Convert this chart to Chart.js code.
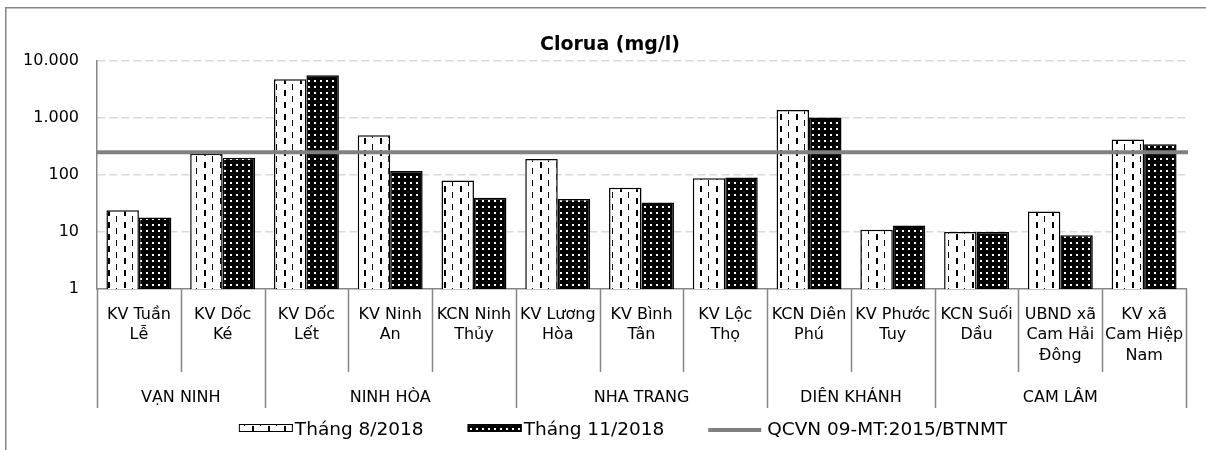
<!DOCTYPE html>
<html><head><meta charset="utf-8">
<script src="https://cdn.jsdelivr.net/npm/chart.js@4"></script>
<style>html,body{margin:0;padding:0;background:#fff;overflow:hidden;} canvas{display:block}</style>
</head><body>
<canvas id="c" width="1206" height="450"></canvas>
<script>
const categories = [['KV Tuần','Lễ'],['KV Dốc','Ké'],['KV Dốc','Lết'],['KV Ninh','An'],['KCN Ninh','Thủy'],['KV Lương','Hòa'],['KV Bình','Tân'],['KV Lộc','Thọ'],['KCN Diên','Phú'],['KV Phước','Tuy'],['KCN Suối','Dầu'],['UBND xã','Cam Hải','Đông'],['KV xã','Cam Hiệp','Nam']];
const groups = ['VẠN NINH','NINH HÒA','NHA TRANG','DIÊN KHÁNH','CAM LÂM'];
const groupSizes = [2,3,3,2,3];
const aug2018 = [24,235,4800,500,80,190,60,88,1380,11,10,23,420];
const nov2018 = [18,200,5600,118,40,38,33,90,1020,13,10,8.8,345];
const qcvnLimit = 250;
const yTicks = [1,10,100,1000,10000];
const yTickLabels = ['1','10','100','1.000','10.000'];
const seriesNames = ['Tháng 8/2018','Tháng 11/2018','QCVN 09-MT:2015/BTNMT'];
const chartTitle = 'Clorua (mg/l)';

const FONT = '"DejaVu Sans", sans-serif';
const LIMIT_COLOR = '#808080';
Chart.defaults.font.family = FONT;
const canvas = document.getElementById('c');
const mainCtx = canvas.getContext('2d');

function makePattern(w, h, draw){
  const c = document.createElement('canvas'); c.width = w; c.height = h;
  const g = c.getContext('2d'); draw(g);
  return mainCtx.createPattern(c, 'repeat');
}
const patDash = makePattern(16, 12, g => {
  g.fillStyle = '#fff'; g.fillRect(0,0,16,12);
  g.fillStyle = '#000'; g.fillRect(4,0,1,6); g.fillRect(12,6,2,6);
});
const patDot = makePattern(6, 6, g => {
  g.fillStyle = '#000'; g.fillRect(0,0,6,6);
  g.fillStyle = '#fff'; g.fillRect(2,2,2,2);
});

// QCVN limit line, positioned through the y scale across the plot area
const limitLine = {
  id: 'limitLine',
  afterDatasetsDraw(chart){
    const {ctx, chartArea: a, scales: {y}} = chart;
    const py = y.getPixelForValue(qcvnLimit);
    ctx.save();
    ctx.strokeStyle = LIMIT_COLOR; ctx.lineWidth = 4;
    ctx.beginPath(); ctx.moveTo(a.left, py); ctx.lineTo(a.right + 2, py); ctx.stroke();
    ctx.restore();
  }
};

const decor = {
  id: 'decor',
  afterDraw(chart){
    const {ctx, chartArea: a, scales: {x}} = chart;
    ctx.save();
    ctx.fillStyle = '#868686';
    ctx.fillRect(5, 7, 1201, 1.5);
    ctx.fillRect(5, 7, 1.5, 443);
    ctx.fillStyle = '#000'; ctx.textAlign = 'center'; ctx.textBaseline = 'alphabetic';
    ctx.font = 'bold 19px ' + FONT;
    ctx.fillText(chartTitle, 610, 50);
    const n = categories.length;
    const bx = i => i === 0 ? x.left : (i === n ? x.right : (x.getPixelForValue(i-1) + x.getPixelForValue(i)) / 2);
    const gb = [0]; groupSizes.forEach(s => gb.push(gb[gb.length-1] + s));
    ctx.strokeStyle = '#868686'; ctx.lineWidth = 1.5;
    for (let i = 0; i <= n; i++){
      const px = Math.round(bx(i)) + 0.5;
      ctx.beginPath(); ctx.moveTo(px, a.bottom); ctx.lineTo(px, gb.includes(i) ? 408 : 372); ctx.stroke();
    }
    ctx.font = '16px ' + FONT; ctx.fillStyle = '#000';
    groups.forEach((gname, k) => {
      ctx.fillText(gname, (bx(gb[k]) + bx(gb[k+1])) / 2, 402);
    });
    ctx.font = '18.5px ' + FONT; ctx.textAlign = 'left';
    const ds = chart.data.datasets;
    const items = [
      {kind:'box', fill: ds[0].backgroundColor, text: seriesNames[0], sw:54, tg:2},
      {kind:'box', fill: ds[1].backgroundColor, text: seriesNames[1], sw:54, tg:2},
      {kind:'line', color: LIMIT_COLOR, text: seriesNames[2], sw:53, tg:6}
    ];
    const gap = 44;
    let total = 0;
    items.forEach((it, k) => { it.tw = ctx.measureText(it.text).width; total += it.sw + it.tg + it.tw + (k ? gap : 0); });
    let cx = 623 - total / 2;
    items.forEach(it => {
      if (it.kind === 'box'){
        ctx.fillStyle = it.fill; ctx.fillRect(cx, 424, it.sw, 8);
        ctx.strokeStyle = '#000'; ctx.lineWidth = 1; ctx.strokeRect(cx + 0.5, 424.5, it.sw - 1, 7);
      } else {
        ctx.strokeStyle = it.color; ctx.lineWidth = 4;
        ctx.beginPath(); ctx.moveTo(cx, 430); ctx.lineTo(cx + it.sw, 430); ctx.stroke();
      }
      ctx.fillStyle = '#000';
      ctx.fillText(it.text, cx + it.sw + it.tg, 435);
      cx += it.sw + it.tg + it.tw + gap;
    });
    ctx.restore();
  }
};

new Chart(canvas, {
  type: 'bar',
  data: {
    labels: categories,
    datasets: [
      {label: seriesNames[0], data: aug2018, backgroundColor: patDash, borderColor:'#000', borderWidth:1.5, borderSkipped:'bottom'},
      {label: seriesNames[1], data: nov2018, backgroundColor: patDot, borderColor:'#000', borderWidth:1.5, borderSkipped:'bottom'}
    ]
  },
  options: {
    responsive: false, animation: false, devicePixelRatio: 1,
    datasets: {bar: {categoryPercentage: 0.775, barPercentage: 1}},
    layout: {padding: {top: 61, left: 0, right: 20, bottom: 0}},
    plugins: {legend: {display:false}, title: {display:false}, tooltip: {enabled:false}},
    scales: {
      x: {
        type:'category', offset:true,
        grid: {display:false, drawTicks:false},
        border: {display:true, color:'#868686', width:1.5},
        ticks: {font:{size:16, lineHeight:1.3}, color:'#000', padding:15, maxRotation:0, minRotation:0, autoSkip:false},
        afterFit(s){ s.height = 161; }
      },
      y: {
        type:'logarithmic', min:1, max:10000,
        afterBuildTicks(s){ s.ticks = yTicks.map(v => ({value:v})); },
        ticks: {font:{size:16}, color:'#000', padding:18, callback: v => { const i = yTicks.indexOf(Number(v)); return i >= 0 ? yTickLabels[i] : ''; }},
        grid: {drawTicks:false, lineWidth:1.5, color: c => (c.tick && c.tick.value === 1) ? 'rgba(0,0,0,0)' : '#d9d9d9'},
        border: {display:true, color:'#868686', width:1.5, dash:[8,4]},
        afterFit(s){ s.width = 97; }
      }
    }
  },
  plugins: [limitLine, decor]
});
</script>
</body></html>
